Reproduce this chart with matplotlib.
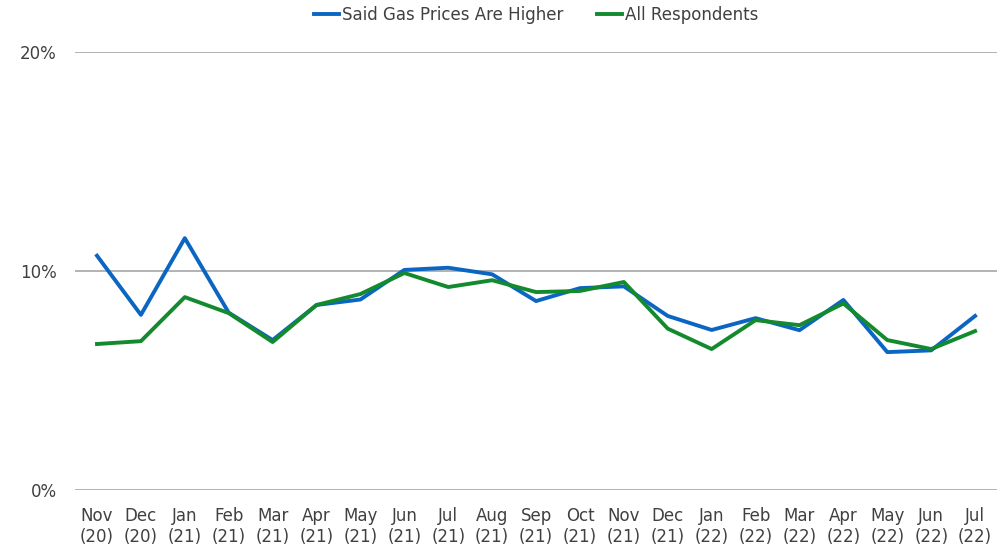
import matplotlib
matplotlib.use("Agg")
import matplotlib.pyplot as plt
import numpy as np

months = ["Nov\n(20)", "Dec\n(20)", "Jan\n(21)", "Feb\n(21)", "Mar\n(21)", "Apr\n(21)", "May\n(21)",
          "Jun\n(21)", "Jul\n(21)", "Aug\n(21)", "Sep\n(21)", "Oct\n(21)", "Nov\n(21)", "Dec\n(21)",
          "Jan\n(22)", "Feb\n(22)", "Mar\n(22)", "Apr\n(22)", "May\n(22)", "Jun\n(22)", "Jul\n(22)"]
gas_higher = [10.7, 8.0, 11.5, 8.1, 6.85, 8.45, 8.7, 10.05, 10.15, 9.85, 8.63, 9.22, 9.3,
              7.95, 7.31, 7.85, 7.3, 8.68, 6.3, 6.38, 7.95]
all_resp = [6.67, 6.8, 8.81, 8.08, 6.76, 8.45, 8.95, 9.91, 9.27, 9.58, 9.04, 9.09, 9.5,
            7.37, 6.44, 7.76, 7.53, 8.52, 6.85, 6.44, 7.26]

plt.rcParams['font.family'] = ['DejaVu Sans']
txt = '#404040'

fig = plt.figure(figsize=(10.06, 5.52), dpi=100)
ax = fig.add_axes([0.0746, 0.112, 0.9165, 0.794])
x = np.arange(len(months))

ax.plot(x, gas_higher, color='#0A66C2', lw=2.8, label='Said Gas Prices Are Higher')
ax.plot(x, all_resp, color='#138A2E', lw=2.8, label='All Respondents')

ax.set_ylim(0, 20)
ax.set_xlim(-0.5, len(months) - 0.5)
ax.set_yticks([0, 10, 20])
ax.set_yticklabels(['0%', '10%', '20%'])
ax.set_xticks(x)
ax.set_xticklabels(months)
ax.yaxis.grid(True, color='#A6A6A6', lw=1.2)
ax.set_axisbelow(True)
for s in ax.spines.values():
    s.set_visible(False)
ax.tick_params(length=0, labelsize=12, colors=txt, pad=12)
ax.tick_params(axis='y', pad=13)

ax.legend(loc='center', bbox_to_anchor=(0.5, 1.085), ncol=2, frameon=False,
          fontsize=12, labelcolor=txt, handlelength=1.5, handletextpad=0.2,
          columnspacing=2.0, borderaxespad=0)

fig.savefig('out.png', dpi=100)
